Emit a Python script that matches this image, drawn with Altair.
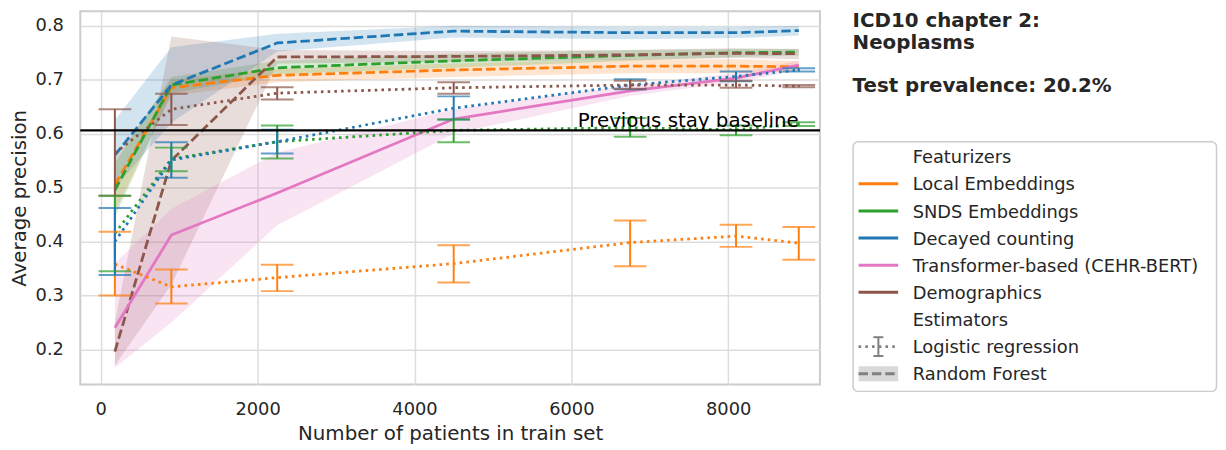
import altair as alt
import pandas as pd

# ---------------- data ----------------
train_sizes = [180, 900, 2250, 4500, 6750, 8100, 8900]
featurizers = ["Local Embeddings", "SNDS Embeddings", "Decayed counting",
               "Transformer-based (CEHR-BERT)", "Demographics"]
colors = ["#ff7f0e", "#2ca02c", "#1f77b4", "#e377c2", "#8c564b"]

# Random Forest (dashed line + 95% band)
rf_local_mean = [0.505, 0.685, 0.708, 0.718, 0.725, 0.725, 0.724]
rf_local_lo = [0.455, 0.670, 0.695, 0.705, 0.712, 0.712, 0.715]
rf_local_hi = [0.555, 0.700, 0.720, 0.730, 0.738, 0.738, 0.734]

rf_snds_mean = [0.495, 0.690, 0.722, 0.735, 0.745, 0.750, 0.751]
rf_snds_lo = [0.445, 0.675, 0.710, 0.722, 0.735, 0.742, 0.745]
rf_snds_hi = [0.545, 0.705, 0.735, 0.748, 0.755, 0.757, 0.757]

rf_decay_mean = [0.560, 0.690, 0.768, 0.790, 0.787, 0.787, 0.791]
rf_decay_lo = [0.500, 0.620, 0.752, 0.778, 0.775, 0.777, 0.782]
rf_decay_hi = [0.625, 0.760, 0.785, 0.800, 0.797, 0.797, 0.800]

rf_demo_mean = [0.196, 0.550, 0.742, 0.743, 0.746, 0.749, 0.748]
rf_demo_lo = [0.170, 0.320, 0.730, 0.733, 0.737, 0.740, 0.738]
rf_demo_hi = [0.250, 0.780, 0.755, 0.753, 0.755, 0.758, 0.757]

# Transformer-based (solid line + band)
tr_mean = [0.240, 0.412, 0.490, 0.627, 0.679, 0.703, 0.727]
tr_lo = [0.166, 0.250, 0.430, 0.600, 0.670, 0.695, 0.718]
tr_hi = [0.360, 0.460, 0.565, 0.645, 0.690, 0.712, 0.735]

# Logistic regression (dotted line + error bars)
lr_local_mean = [0.358, 0.316, 0.333, 0.359, 0.398, 0.410, 0.397]
lr_local_lo = [0.300, 0.285, 0.308, 0.324, 0.354, 0.390, 0.366]
lr_local_hi = [0.418, 0.348, 0.357, 0.393, 0.439, 0.431, 0.427]

lr_snds_mean = [0.415, 0.553, 0.585, 0.606, 0.611, 0.607, 0.618]
lr_snds_lo = [0.345, 0.530, 0.554, 0.584, 0.594, 0.597, 0.614]
lr_snds_hi = [0.485, 0.574, 0.615, 0.626, 0.629, 0.615, 0.621]

lr_decay_mean = [0.400, 0.551, 0.585, 0.647, 0.690, 0.706, 0.718]
lr_decay_lo = [0.338, 0.518, 0.563, 0.626, 0.682, 0.697, 0.715]
lr_decay_hi = [0.462, 0.584, 0.607, 0.669, 0.701, 0.715, 0.721]

lr_demo_mean = [0.564, 0.645, 0.675, 0.685, 0.690, 0.690, 0.688]
lr_demo_lo = [0.485, 0.616, 0.663, 0.674, 0.683, 0.685, 0.686]
lr_demo_hi = [0.645, 0.674, 0.686, 0.695, 0.698, 0.698, 0.690]

baseline_value = [0.606]
baseline_label = ["Previous stay baseline"]

x_ticks = [0, 2000, 4000, 6000, 8000]
y_ticks = [0.2, 0.3, 0.4, 0.5, 0.6, 0.7, 0.8]

title_lines = ["ICD10 chapter 2:", "Neoplasms", "", "Test prevalence: 20.2%"]
legend_rows = ["Featurizers"] + featurizers + ["Estimators", "Logistic regression", "Random Forest"]

# ---------------- tables ----------------
def table(name, mean, lo, hi):
    return pd.DataFrame({"featurizer": name, "x": train_sizes, "mean": mean, "lo": lo, "hi": hi})

rf_df = pd.concat([
    table(featurizers[0], rf_local_mean, rf_local_lo, rf_local_hi),
    table(featurizers[1], rf_snds_mean, rf_snds_lo, rf_snds_hi),
    table(featurizers[2], rf_decay_mean, rf_decay_lo, rf_decay_hi),
    table(featurizers[4], rf_demo_mean, rf_demo_lo, rf_demo_hi),
])
tr_df = table(featurizers[3], tr_mean, tr_lo, tr_hi)
lr_df = pd.concat([
    table(featurizers[0], lr_local_mean, lr_local_lo, lr_local_hi),
    table(featurizers[1], lr_snds_mean, lr_snds_lo, lr_snds_hi),
    table(featurizers[2], lr_decay_mean, lr_decay_lo, lr_decay_hi),
    table(featurizers[4], lr_demo_mean, lr_demo_lo, lr_demo_hi),
])
base_df = pd.DataFrame({"y": baseline_value, "x": [max(train_sizes)], "label": baseline_label})

FONT = "DejaVu Sans"
TXT = "#262626"
LW = 2.8

xscale = alt.Scale(domain=[-261, 9170], nice=False, zero=False)
yscale = alt.Scale(domain=[0.135, 0.827], nice=False, zero=False)
color = alt.Color("featurizer:N", scale=alt.Scale(domain=featurizers, range=colors), legend=None)

x_axis = alt.Axis(values=x_ticks, format="d", title="Number of patients in train set",
                  labelPadding=16, titlePadding=6)
y_axis = alt.Axis(values=y_ticks, format=".1f", title="Average precision",
                  labelPadding=17, titlePadding=6)

X = alt.X("x:Q", scale=xscale, axis=x_axis)
Y = alt.Y("mean:Q", scale=yscale, axis=y_axis)
Ylo = alt.Y("lo:Q", scale=yscale, axis=y_axis)

rf_band = alt.Chart(rf_df).mark_area(opacity=0.2).encode(x=X, y=Ylo, y2="hi:Q", color=color)
tr_band = alt.Chart(tr_df).mark_area(opacity=0.2).encode(x=X, y=Ylo, y2="hi:Q", color=color)
rf_line = alt.Chart(rf_df).mark_line(strokeWidth=LW, strokeDash=[9.5, 4]).encode(x=X, y=Y, color=color)
tr_line = alt.Chart(tr_df).mark_line(strokeWidth=LW).encode(x=X, y=Y, color=color)
lr_line = alt.Chart(lr_df).mark_line(strokeWidth=LW, strokeDash=[2.6, 4.2]).encode(x=X, y=Y, color=color)
lr_bar = alt.Chart(lr_df).mark_rule(strokeWidth=2).encode(x=X, y=Ylo, y2="hi:Q", color=color)
lr_cap_lo = alt.Chart(lr_df).mark_tick(orient="horizontal", size=33, thickness=2).encode(x=X, y=Ylo, color=color)
lr_cap_hi = alt.Chart(lr_df).mark_tick(orient="horizontal", size=33, thickness=2).encode(
    x=X, y=alt.Y("hi:Q", scale=yscale, axis=y_axis), color=color)

base_rule = alt.Chart(base_df).mark_rule(color="black", strokeWidth=2.5).encode(
    y=alt.Y("y:Q", scale=yscale, axis=y_axis))
base_text = alt.Chart(base_df).mark_text(align="right", baseline="alphabetic", dy=-3,
                                         fontSize=20, color="black", font=FONT).encode(
    x=X, y=alt.Y("y:Q", scale=yscale, axis=y_axis), text="label:N")

main = alt.layer(
    rf_band, tr_band, rf_line, tr_line, lr_line, lr_bar, lr_cap_lo, lr_cap_hi, base_rule, base_text
).properties(width=747, height=377,
             view=alt.ViewBackground(stroke="#cccccc", strokeWidth=2))

# ---------------- side panel (titles + legend) ----------------
SW, SH = 368, 386
sx = alt.Scale(domain=[0, SW], range=[0, SW])
sy = alt.Scale(domain=[0, SH], range=[0, SH])

title_df = pd.DataFrame({"t": title_lines,
                         "x": [0] * len(title_lines),
                         "y": [22 * i for i in range(len(title_lines))]})
title_df = title_df[title_df["t"] != ""]
row_base = [153.7 + 27.4 * i for i in range(len(legend_rows))]
rows_df = pd.DataFrame({"t": legend_rows, "x": [60.7] * len(legend_rows), "y": row_base})

frame_df = pd.DataFrame({"x0": [0.5], "x1": [SW - 0.5], "y0": [132], "y1": [384]})
feat_handles = pd.DataFrame({"featurizer": featurizers, "x0": [6] * 5, "x1": [46] * 5,
                             "y": [row_base[i + 1] - 6.7 for i in range(5)]})
lr_y = row_base[7] - 6.7
rf_y = row_base[8] - 6.7
lr_handle = pd.DataFrame({"x0": [6], "x1": [46], "y": [lr_y]})
lr_err = pd.DataFrame({"x": [26], "y0": [lr_y - 9.5], "y1": [lr_y + 9.5]})
lr_caps = pd.DataFrame({"x0": [21, 21], "x1": [31, 31], "y": [lr_y - 9.5, lr_y + 9.5]})
rf_handle = pd.DataFrame({"x0": [6], "x1": [46], "y": [rf_y], "y0": [rf_y - 7.5], "y1": [rf_y + 7.5]})

SX = lambda f: alt.X(f, scale=sx, axis=None)
SY = lambda f: alt.Y(f, scale=sy, axis=None)

frame = alt.Chart(frame_df).mark_rect(fill="white", stroke="#cccccc", strokeWidth=1.5,
                                      cornerRadius=5).encode(
    x=SX("x0:Q"), x2="x1:Q", y=SY("y0:Q"), y2="y1:Q")
titles = alt.Chart(title_df).mark_text(align="left", baseline="top", fontSize=20,
                                       fontWeight="bold", font=FONT, color=TXT).encode(
    x=SX("x:Q"), y=SY("y:Q"), text="t:N")
labels = alt.Chart(rows_df).mark_text(align="left", baseline="alphabetic", fontSize=18,
                                      font=FONT, color=TXT).encode(
    x=SX("x:Q"), y=SY("y:Q"), text="t:N")
fh = alt.Chart(feat_handles).mark_rule(strokeWidth=3).encode(
    x=SX("x0:Q"), x2="x1:Q", y=SY("y:Q"), color=color)
lrh = alt.Chart(lr_handle).mark_rule(strokeWidth=3, color="#808080", strokeDash=[2.6, 4.2]).encode(
    x=SX("x0:Q"), x2="x1:Q", y=SY("y:Q"))
lre = alt.Chart(lr_err).mark_rule(strokeWidth=2, color="#808080").encode(
    x=SX("x:Q"), y=SY("y0:Q"), y2="y1:Q")
lrc = alt.Chart(lr_caps).mark_rule(strokeWidth=2, color="#808080").encode(
    x=SX("x0:Q"), x2="x1:Q", y=SY("y:Q"))
rfb = alt.Chart(rf_handle).mark_rect(color="#808080", opacity=0.3).encode(
    x=SX("x0:Q"), x2="x1:Q", y=SY("y0:Q"), y2="y1:Q")
rfl = alt.Chart(rf_handle).mark_rule(strokeWidth=3, color="#808080", strokeDash=[9.5, 4]).encode(
    x=SX("x0:Q"), x2="x1:Q", y=SY("y:Q"))

side = alt.layer(frame, titles, labels, fh, lrh, lre, lrc, rfb, rfl).properties(width=SW, height=SH)

chart = alt.hconcat(main, side, spacing=29).properties(
    padding={"left": 0, "top": 0, "right": 0, "bottom": 0}
).configure(font=FONT).configure_view(stroke="transparent").configure_axis(
    grid=True, gridColor="#dddddd", gridWidth=1.5, ticks=False, domain=False,
    labelFont=FONT, titleFont=FONT, labelFontSize=18, titleFontSize=20,
    labelColor=TXT, titleColor=TXT, titleFontWeight="normal"
)

chart.save("out.html", embed_options={"renderer": "svg", "actions": False})
